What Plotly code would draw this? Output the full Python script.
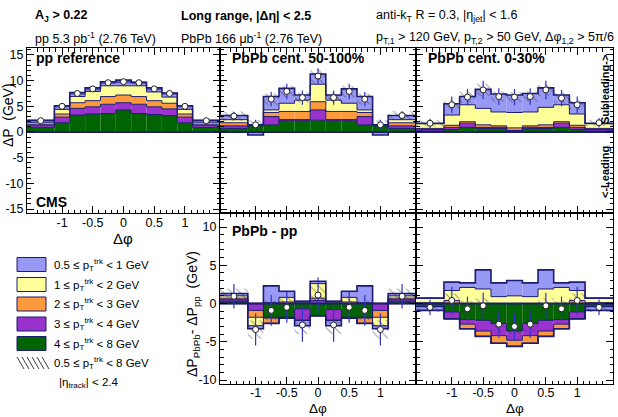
import numpy as np
import plotly.graph_objects as go

# ---------------- data ----------------
dphi_edges = [-np.pi / 2, -1.125, -0.875, -0.625, -0.375, -0.125, 0.125, 0.375, 0.625, 0.875, 1.125, np.pi / 2]
dphi_ticks = [-1, -0.5, 0, 0.5, 1]
dphi_ticktext = ["-1", "-0.5", "0", "0.5", "1"]
top_yticks = [-15, -10, -5, 0, 5, 10, 15]
bot_yticks = [-10, -5, 0, 5, 10]

# legend entries: (lower edge, upper edge) of track pT bins
trk_lo = ["0.5", "1", "2", "3", "4"]
trk_hi = ["1", "2", "3", "4", "8"]
total_lo, total_hi = "0.5", "8"

# pp reference (per track-pT bin: 4-8, 3-4, 2-3, 1-2, 0.5-1 GeV)
pp_4to8 = [0.9, 1.8, 3.3, 3.5, 3.6, 4.3, 3.6, 3.4, 3.2, 1.8, 0.9]
pp_3to4 = [0.4, 1.1, 1.3, 1.4, 1.8, 1.4, 1.8, 1.5, 1.3, 1.1, 0.4]
pp_2to3 = [0.2, 0.6, 1.1, 1.2, 1.5, 1.5, 1.5, 1.2, 1.1, 0.6, 0.2]
pp_1to2 = [0.3, 0.9, 1.2, 1.8, 2.1, 1.8, 2.1, 1.7, 1.2, 0.9, 0.3]
pp_05to1 = [0.5, 0.7, 0.8, 0.7, 0.8, 1.1, 0.7, 0.8, 0.8, 0.7, 0.5]
pp_total = [2.2, 5.0, 7.5, 8.4, 9.6, 9.8, 9.6, 8.4, 7.5, 5.0, 2.2]
pp_stat = [0.1, 0.1, 0.1, 0.1, 0.1, 0.1, 0.1, 0.1, 0.1, 0.1, 0.1]
pp_syst = [0.2, 0.2, 0.25, 0.25, 0.25, 0.3, 0.25, 0.25, 0.25, 0.2, 0.2]

# PbPb 50-100%
c50_4to8 = [0.7, 1.2, 1.4, 2.3, 2.3, 2.3, 2.3, 2.3, 1.4, 1.2, 0.7]
c50_3to4 = [0.5, 0.1, 1.6, 0.1, 0.1, 2.0, 0.1, 0.1, 1.6, 0.1, 0.5]
c50_2to3 = [0.6, 0.05, 0.8, 1.6, 1.6, 1.6, 1.6, 1.6, 0.8, 0.05, 0.6]
c50_1to2 = [0.6, 0.05, 0.5, 1.6, 2.2, 3.4, 2.2, 1.6, 0.5, 0.05, 0.6]
c50_05to1 = [0.8, -0.6, 2.6, 2.9, 1.0, 2.0, 1.0, 2.8, 2.6, -0.6, 0.8]
c50_total = [3.1, 1.4, 6.4, 7.9, 6.7, 10.9, 6.7, 7.9, 6.4, 1.4, 3.2]
c50_stat = [0.8, 1.0, 1.4, 1.5, 1.4, 1.5, 1.4, 1.5, 1.4, 1.0, 0.8]
c50_syst = [0.9, 0.9, 1.1, 1.1, 1.0, 1.3, 1.0, 1.1, 1.1, 0.9, 0.9]

# PbPb 0-30%
c0_4to8 = [0.2, 0.5, 0.9, 0.7, 0.7, 0.2, 0.7, 0.7, 0.9, 0.5, 0.2]
c0_3to4 = [0.3, 0.4, 0.8, 0.2, 0.2, 0.1, 0.2, 0.2, 0.8, 0.4, 0.3]
c0_2to3 = [0.2, 0.4, 0.3, 0.5, 0.3, 0.5, 0.3, 0.5, 0.3, 0.4, 0.2]
c0_1to2 = [0.9, 2.0, 3.3, 3.2, 2.7, 3.0, 2.7, 3.4, 3.3, 2.2, 0.9]
c0_05to1 = [0.1, 2.2, 1.6, 3.7, 3.5, 3.4, 3.6, 3.8, 1.9, 2.2, 0.1]
c0_total = [1.7, 5.3, 6.8, 8.2, 6.9, 6.8, 6.9, 8.2, 6.6, 5.3, 1.8]
c0_stat = [0.9, 1.6, 1.6, 1.8, 1.6, 1.6, 1.6, 1.8, 1.6, 1.6, 0.9]
c0_syst = [0.6, 1.0, 1.1, 1.2, 1.0, 1.0, 1.0, 1.2, 1.1, 1.0, 0.6]

# PbPb 50-100% - pp
d50_4to8 = [0.3, 0.0, -1.8, -1.8, -0.7, -1.6, -0.8, -1.8, -1.8, 0.0, 0.3]
d50_3to4 = [0.2, -0.9, -0.1, -0.1, -1.5, 0.4, -1.4, -0.1, -0.1, -0.9, 0.2]
d50_2to3 = [0.2, -0.9, -0.7, 0.2, 0.1, 0.3, 0.1, 0.2, -0.7, -0.9, 0.2]
d50_1to2 = [0.3, -1.1, 0.1, 0.6, 0.2, 1.9, 0.2, 0.6, 0.1, -1.1, 0.3]
d50_05to1 = [0.3, -0.4, 2.2, 0.8, -0.7, 0.3, -0.7, 0.8, 2.2, -0.4, 0.3]
d50_total = [0.95, -3.4, -0.9, -0.5, -2.8, 1.1, -2.8, -0.5, -0.9, -3.4, 0.95]
d50_stat = [1.6, 2.1, 2.0, 2.0, 2.2, 2.3, 2.2, 2.0, 2.0, 2.1, 1.6]
d50_syst = [1.0, 1.2, 1.3, 1.2, 1.2, 1.3, 1.2, 1.2, 1.3, 1.2, 1.0]

# PbPb 0-30% - pp
d0_4to8 = [-0.2, -1.1, -2.1, -2.2, -2.6, -3.6, -2.6, -2.2, -2.1, -1.1, -0.2]
d0_3to4 = [-0.2, -0.9, -0.6, -1.4, -1.6, -1.2, -1.6, -1.4, -0.6, -0.9, -0.2]
d0_2to3 = [0.1, 0.4, -0.6, -0.7, -1.0, -0.8, -1.0, -0.7, -0.6, 0.4, 0.1]
d0_1to2 = [0.6, 1.3, 2.1, 1.9, 0.9, 1.0, 0.9, 1.9, 2.1, 1.3, 0.6]
d0_05to1 = [-0.5, 1.1, 0.6, 2.5, 1.8, 2.0, 1.8, 2.5, 0.6, 1.1, -0.5]
d0_total = [-0.5, 0.4, -0.7, -0.3, -2.7, -3.0, -2.7, -0.3, -0.7, 0.4, -0.5]
d0_stat = [1.0, 1.8, 1.6, 1.7, 1.8, 1.8, 1.8, 1.7, 1.6, 1.8, 1.0]
d0_syst = [0.6, 0.9, 1.0, 1.0, 1.0, 1.0, 1.0, 1.0, 1.0, 0.9, 0.6]

# ---------------- style ----------------
FONT = "Liberation Sans, Arial, sans-serif"
W, H = 618, 417
layer_colors = ["#006400", "#9a32cd", "#ff9a3c", "#ffff99", "#9898f5"]  # 4-8, 3-4, 2-3, 1-2, 0.5-1
EDGE = "#1c1c70"
ERRC = "#3232c8"


def fx(p):
    return p / W


def fy(p):
    return 1 - p / H


edges = np.array(dphi_edges)
centers = 0.5 * (edges[:-1] + edges[1:])
widths = edges[1:] - edges[:-1]

fig = go.Figure()


def add_panel(xa, ya, layers, total, stat, syst, band=False):
    n = len(total)
    pos = np.zeros(n)
    neg = np.zeros(n)
    bounds = []
    for vals, col in zip(layers, layer_colors):
        v = np.array(vals, dtype=float)
        base = np.where(v >= 0, pos, neg)
        fig.add_trace(go.Bar(x=centers, y=v, base=base, width=widths,
                             marker=dict(color=col, line=dict(width=0)),
                             xaxis=xa, yaxis=ya, hoverinfo="skip"))
        pos = pos + np.clip(v, 0, None)
        neg = neg + np.clip(v, None, 0)
        bounds.append(pos.copy())
        bounds.append(neg.copy())
    for i, b in enumerate(bounds):
        wdt = 1.6 if i >= len(bounds) - 2 else 1.0
        fig.add_trace(go.Scatter(x=list(edges), y=list(b) + [b[-1]], mode="lines",
                                 line=dict(shape="hv", color=EDGE, width=wdt),
                                 xaxis=xa, yaxis=ya, hoverinfo="skip"))
    fig.add_trace(go.Scatter(x=[edges[0], edges[-1]], y=[0, 0], mode="lines",
                             line=dict(color=EDGE, width=2), xaxis=xa, yaxis=ya, hoverinfo="skip"))
    t = np.array(total)
    s = np.array(syst)
    if band:
        fig.add_trace(go.Bar(x=centers, y=2 * s, base=t - s, width=widths,
                             marker=dict(color="rgba(30,30,140,0.55)", line=dict(width=0)),
                             xaxis=xa, yaxis=ya, hoverinfo="skip"))
    else:
        fig.add_trace(go.Bar(x=centers, y=2 * s, base=t - s, width=widths,
                             marker=dict(color="rgba(0,0,0,0)", line=dict(width=0),
                                         pattern=dict(shape="\\", fgcolor="#3c3c3c",
                                                      bgcolor="rgba(0,0,0,0)", size=6, solidity=0.18)),
                             xaxis=xa, yaxis=ya, hoverinfo="skip"))
    fig.add_trace(go.Scatter(x=centers, y=t, mode="markers",
                             marker=dict(symbol="circle", size=6, color="white",
                                         line=dict(color="#202020", width=1)),
                             error_y=dict(type="data", array=stat, color=ERRC, thickness=1.2, width=0),
                             xaxis=xa, yaxis=ya, hoverinfo="skip"))


add_panel("x", "y", [pp_4to8, pp_3to4, pp_2to3, pp_1to2, pp_05to1], pp_total, pp_stat, pp_syst, band=True)
add_panel("x2", "y2", [c50_4to8, c50_3to4, c50_2to3, c50_1to2, c50_05to1], c50_total, c50_stat, c50_syst)
add_panel("x3", "y3", [c0_4to8, c0_3to4, c0_2to3, c0_1to2, c0_05to1], c0_total, c0_stat, c0_syst)
add_panel("x4", "y4", [d50_4to8, d50_3to4, d50_2to3, d50_1to2, d50_05to1], d50_total, d50_stat, d50_syst)
add_panel("x5", "y5", [d0_4to8, d0_3to4, d0_2to3, d0_1to2, d0_05to1], d0_total, d0_stat, d0_syst)

# ---------------- axes ----------------
xminor = [round(v, 2) for v in np.arange(-1.5, 1.51, 0.1) if abs(v * 2 - round(v * 2)) > 1e-6]
top_minor = [v for v in range(-15, 17) if v % 5 != 0]
bot_minor = [v for v in range(-10, 12) if v % 5 != 0]
top_range = [-15.78, 16.36]
bot_range = [-10.52, 11.83]


def ax(**kw):
    d = dict(showline=True, linecolor="black", linewidth=1, mirror="allticks", ticks="inside",
             ticklen=7, tickwidth=1, tickcolor="black", showgrid=False, zeroline=False,
             tickfont=dict(family=FONT, size=12.5, color="black"), tickmode="array")
    d.update(kw)
    return d


def xax(dom, anchor, labels, standoff=0):
    return ax(domain=[fx(dom[0]), fx(dom[1])], anchor=anchor, range=[edges[0], edges[-1]],
              tickvals=dphi_ticks, ticktext=dphi_ticktext, showticklabels=labels,
              ticklabelstandoff=standoff,
              minor=dict(tickmode="array", tickvals=xminor, ticks="inside", ticklen=3.5, tickcolor="black"))


def yax(dom, anchor, rng, tv, mv, labels):
    return ax(domain=[fy(dom[1]), fy(dom[0])], anchor=anchor, range=rng,
              tickvals=tv, ticktext=[str(v) for v in tv], showticklabels=labels,
              minor=dict(tickmode="array", tickvals=mv, ticks="inside", ticklen=3.5, tickcolor="black"))


cols = [(27, 220), (220, 416), (416, 613)]
top_rows = (48, 213)
bot_rows = (213, 384)

fig.update_layout(
    xaxis=xax(cols[0], "y", True, -2), yaxis=yax(top_rows, "x", top_range, top_yticks, top_minor, True),
    xaxis2=xax(cols[1], "y2", False), yaxis2=yax(top_rows, "x2", top_range, top_yticks, top_minor, False),
    xaxis3=xax(cols[2], "y3", False), yaxis3=yax(top_rows, "x3", top_range, top_yticks, top_minor, False),
    xaxis4=xax(cols[1], "y4", True, -3), yaxis4=yax(bot_rows, "x4", bot_range, bot_yticks, bot_minor, True),
    xaxis5=xax(cols[2], "y5", True, -3), yaxis5=yax(bot_rows, "x5", bot_range, bot_yticks, bot_minor, False),
    width=W, height=H, margin=dict(l=0, r=0, t=0, b=0, autoexpand=False),
    paper_bgcolor="white", plot_bgcolor="white", showlegend=False, barmode="overlay",
    font=dict(family=FONT, color="black"),
)

# ---------------- text ----------------
ann = []


def text(x, y, s, size=12, bold=False, anchor="left", angle=0, yanchor="middle"):
    if bold:
        s = "<b>" + s + "</b>"
    ann.append(dict(x=fx(x), y=fy(y), xref="paper", yref="paper", text=s, showarrow=False,
                    xanchor=anchor, yanchor=yanchor, textangle=angle,
                    font=dict(family=FONT, size=size, color="black")))


text(33, 16.5, "A<sub>J</sub> &gt; 0.22", 12.5, bold=True)
text(179, 16.5, "Long range, |Δη| &lt; 2.5", 12.5, bold=True)
text(374, 16.5, "anti-k<sub>T</sub> R = 0.3, |η<sub>jet</sub>| &lt; 1.6", 12.5)
text(33, 38, "pp 5.3 pb<sup>-1</sup> (2.76 TeV)", 12.5)
text(179, 38, "PbPb 166 μb<sup>-1</sup> (2.76 TeV)", 12.5)
text(374, 38, "p<sub>T,1</sub> &gt; 120 GeV, p<sub>T,2</sub> &gt; 50 GeV, Δφ<sub>1,2</sub> &gt; 5π/6", 12.5)

text(34, 58, "pp reference", 14, bold=True)
text(230, 58, "PbPb cent. 50-100%", 14, bold=True)
text(426, 58, "PbPb cent. 0-30%", 14, bold=True)
text(230, 231, "PbPb - pp", 14, bold=True)
text(34, 202, "CMS", 14, bold=True)

text(605, 90, "Subleading-&gt;", 11, bold=True, anchor="center", angle=-90)
text(605, 172, "&lt;-Leading", 11, bold=True, anchor="center", angle=-90)

text(123, 238, "Δφ", 15, anchor="center")
text(318, 408.5, "Δφ", 13.5, anchor="center")
text(515, 408.5, "Δφ", 13.5, anchor="center")
text(8, 115, "ΔP  (GeV)", 14, anchor="center", angle=-90)
text(193, 314, "ΔP<sub>PbPb</sub>- ΔP<sub>pp</sub>  (GeV)", 14, anchor="center", angle=-90)

# legend
LEG_FS = 11.5


def legend_label(yc, lo, hi):
    text(52, yc, lo + " ≤ p<sub>T</sub><sup>trk</sup> &lt; " + hi + " GeV", LEG_FS)


shapes = []
legend_rows = [264.5, 284.5, 304, 324, 343.5]
legend_cols = list(reversed(layer_colors))
for yc, col, lo, hi in zip(legend_rows, legend_cols, trk_lo, trk_hi):
    shapes.append(dict(type="rect", xref="paper", yref="paper", x0=fx(17), x1=fx(46),
                       y0=fy(yc + 7), y1=fy(yc - 7), fillcolor=col, line=dict(color=EDGE, width=1)))
    legend_label(yc, lo, hi)
for x0 in range(17, 43, 5):
    shapes.append(dict(type="line", xref="paper", yref="paper", x0=fx(x0), x1=fx(x0 + 7),
                       y0=fy(357), y1=fy(369), line=dict(color="#3c3c3c", width=1)))
legend_label(363, total_lo, total_hi)
text(57, 383, "|η<sub>track</sub>| &lt; 2.4", LEG_FS)

fig.update_layout(annotations=ann, shapes=shapes)
fig.write_html("out.html", config={"displayModeBar": False},
               post_script="document.body.style.margin='0px';")
